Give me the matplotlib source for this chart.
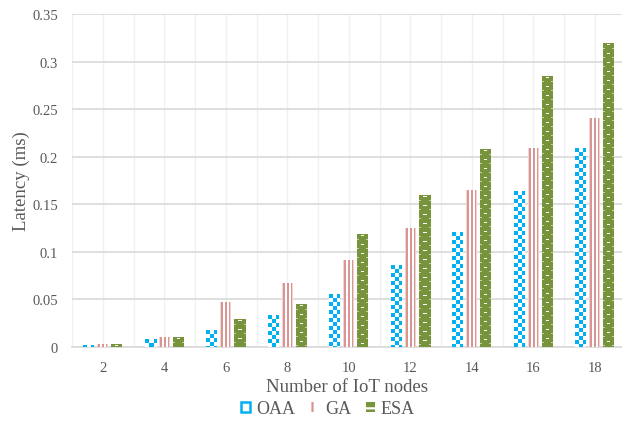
import numpy as np
import matplotlib
matplotlib.use("Agg")
import matplotlib.pyplot as plt
from matplotlib.patches import Patch
from matplotlib.colors import to_rgb
from matplotlib.font_manager import FontProperties

# data
nodes = ["2", "4", "6", "8", "10", "12", "14", "16", "18"]
oaa = [0.002, 0.0085, 0.018, 0.034, 0.056, 0.086, 0.121, 0.164, 0.209]
ga = [0.003, 0.010, 0.047, 0.067, 0.091, 0.125, 0.165, 0.209, 0.241]
esa = [0.003, 0.010, 0.029, 0.045, 0.119, 0.160, 0.208, 0.285, 0.320]
series = ["OAA", "GA", "ESA"]
y_ticks = [0, 0.05, 0.1, 0.15, 0.2, 0.25, 0.3, 0.35]
y_labels = ["0", "0.05", "0.1", "0.15", "0.2", "0.25", "0.3", "0.35"]

BLUE = "#00b0f0"
PINK = "#d99594"
OLIVE = "#77933c"
FONT = "Liberation Serif"
TXT = "#595959"

plt.rcParams["hatch.linewidth"] = 1.6


def pat_checker(r, c, w):
    on = ((r // 4 + c // 4) % 2) == 0
    img = np.ones(r.shape + (3,))
    img[on] = to_rgb(BLUE)
    return img


def pat_stripes(r, c, w):
    img = np.ones(r.shape + (3,))
    img[(c % 4 == 1) | (c % 4 == 2)] = to_rgb(PINK)
    img[(c == 0) | (c == w - 1)] = to_rgb("#f2d4d3")
    return img


def pat_dash(r, c, w):
    img = np.ones(r.shape + (3,)) * np.array(to_rgb(OLIVE))
    mid = w // 2
    img[(r % 9 == 1) & (np.abs(c - mid) <= 1)] = 1.0
    img[(r % 9 == 5) & ((c <= 1) | (c >= w - 2))] = to_rgb("#c3d1a2")
    return img


fig = plt.figure(figsize=(6.22, 4.27), dpi=100)
W, H = 622, 427
ax = fig.add_axes([72 / W, (H - 348) / H, (W - 72) / W, (348 - 15) / H])

x = np.arange(len(nodes))
width = 0.18
step = 0.23
ax.set_xlim(-0.5, -0.5 + (W - 72) / 61.5)
ax.set_ylim(0, 0.35)

fig.canvas.draw()
to_px = ax.transData
to_data = ax.transData.inverted()

patterns = [pat_checker, pat_stripes, pat_dash]
for i, (vals, pat) in enumerate(zip([oaa, ga, esa], patterns)):
    bars = ax.bar(x + (i - 1) * step, vals, width, color="none", edgecolor="none", zorder=3)
    for b in bars:
        x0, y0 = b.get_x(), b.get_y()
        x1, y1 = x0 + b.get_width(), y0 + b.get_height()
        (px0, py0), (px1, py1) = to_px.transform([(x0, y0), (x1, y1)])
        px0, px1 = np.round(px0), np.round(px1)
        py0, py1 = np.round(py0), np.round(py1)
        pw, ph = int(px1 - px0), max(int(py1 - py0), 1)
        r, c = np.mgrid[0:ph, 0:pw]
        img = pat(r, c, pw)
        (dx0, dy0), (dx1, dy1) = to_data.transform([(px0, py0), (px1, py0 + ph)])
        im = ax.imshow(img, extent=(dx0, dx1, dy0, dy1), origin="upper",
                       interpolation="nearest", aspect="auto", zorder=3)
        im.set_clip_on(False)

ax.set_xlim(-0.5, -0.5 + (W - 72) / 61.5)
ax.set_ylim(0, 0.35)

# grid
ax.set_yticks(y_ticks)
ax.set_yticklabels(y_labels)
ax.yaxis.grid(True, color="#d9d9d9", linewidth=1.2, zorder=0)
for xv in np.arange(-0.5, 9.0, 0.5):
    ax.axvline(xv, color="#f0f0f0", linewidth=1.0, zorder=0)
ax.set_xticks(x)
ax.set_xticklabels(nodes)

for s in ["top", "right", "left"]:
    ax.spines[s].set_visible(False)
ax.spines["bottom"].set_color("#d9d9d9")
ax.spines["bottom"].set_linewidth(1.2)
ax.tick_params(length=0, colors=TXT, labelsize=10.5)
ax.tick_params(axis="y", pad=10)
ax.tick_params(axis="x", pad=10)
for lab in ax.get_xticklabels() + ax.get_yticklabels():
    lab.set_fontfamily(FONT)

ax.set_ylabel("Latency (ms)", fontsize=13.5, color=TXT, fontfamily=FONT, labelpad=2)
ax.set_xlabel("Number of IoT nodes", fontsize=13.5, color=TXT, fontfamily=FONT, labelpad=3)

handles = [
    Patch(facecolor="white", edgecolor=BLUE, linewidth=1.8),
    Patch(facecolor="white", edgecolor=PINK, hatch="||", linewidth=0),
    Patch(facecolor=OLIVE, edgecolor="white", hatch="-", linewidth=0),
]
leg = fig.legend(handles, series, loc="center", bbox_to_anchor=(328 / W, 1 - 410 / H),
                 ncol=3, frameon=False, handlelength=0.5, handleheight=0.5,
                 handletextpad=0.35, columnspacing=0.8,
                 prop=FontProperties(family=FONT, size=13))
for t in leg.get_texts():
    t.set_color(TXT)
    t.set_fontfamily(FONT)

fig.savefig("out.png", dpi=100)
